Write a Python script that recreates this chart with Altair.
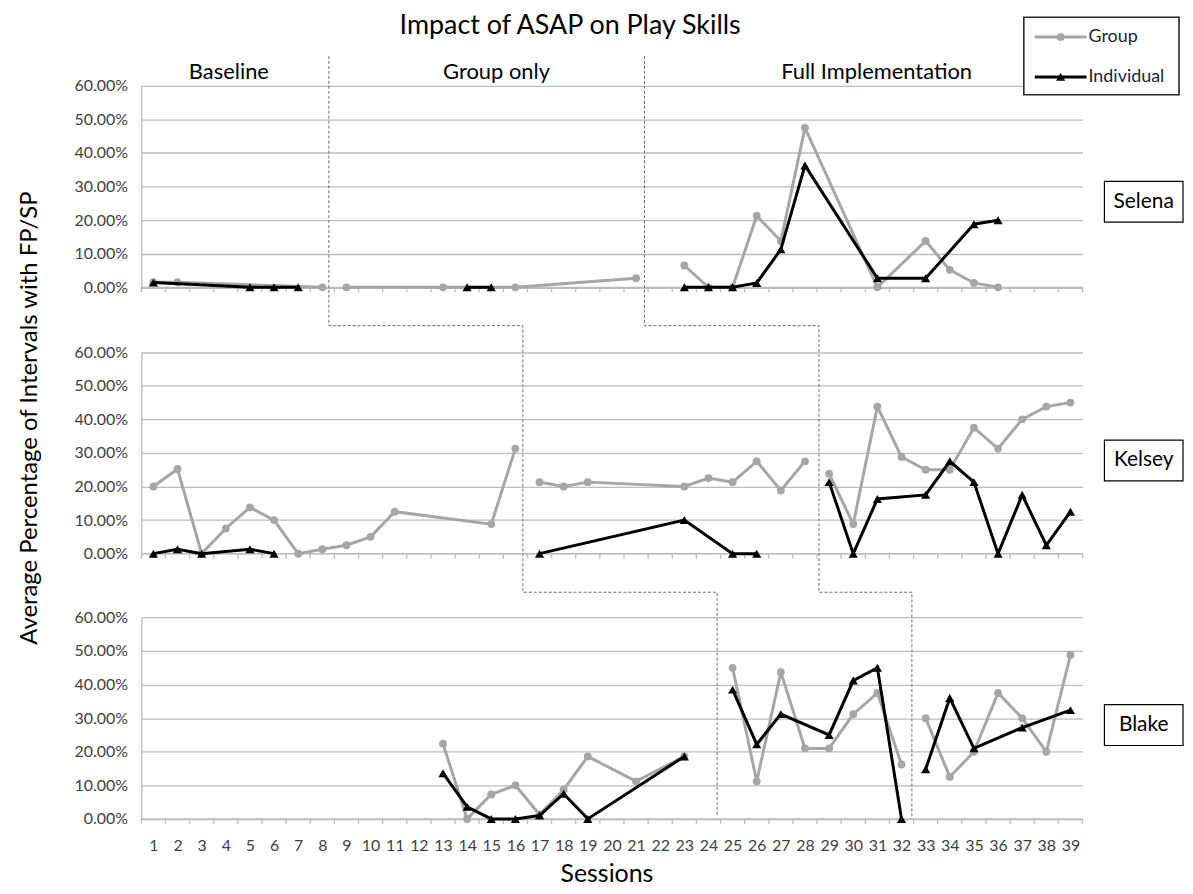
import altair as alt
import pandas as pd

FONT = "Lato"
SESSIONS = list(range(1, 40))
PARTICIPANTS = ["Selena", "Kelsey", "Blake"]
PHASE_NAMES = ["Baseline", "Group only", "Full Implementation"]
Y_TICKS = [0, 0.1, 0.2, 0.3, 0.4, 0.5, 0.6]

# position (in sessions) of each participant's two phase-change lines
PHASE_CHANGES = {
    "Selena": [8.27, 21.35],
    "Kelsey": [16.31, 28.58],
    "Blake": [24.36, 32.43],
}

# ---- data (percent) ----
SELENA_GROUP_SESSIONS = [1, 2, 8, 9, 13, 16, 21, 23, 24, 25, 26, 27, 28, 31, 33, 34, 35, 36]
SELENA_GROUP_VALUES = [1.5, 1.5, 0, 0, 0, 0, 2.7, 6.5, 0, 0, 21.3, 13.8, 47.5, 0, 13.8, 5.2, 1.3, 0]
SELENA_IND_SESSIONS = [1, 5, 6, 7, 14, 15, 23, 24, 25, 26, 27, 28, 31, 33, 35, 36]
SELENA_IND_VALUES = [1.4, 0, 0, 0, 0, 0, 0, 0, 0, 1.3, 11.3, 36.3, 2.7, 2.7, 18.8, 20.0]

KELSEY_GROUP_SESSIONS = [1, 2, 3, 4, 5, 6, 7, 8, 9, 10, 11, 15, 16,
                         17, 18, 19, 23, 24, 25, 26, 27, 28,
                         29, 30, 31, 32, 33, 34, 35, 36, 37, 38, 39]
KELSEY_GROUP_VALUES = [20.0, 25.2, 0, 7.5, 13.8, 10.0, 0, 1.3, 2.5, 5.0, 12.5, 8.8, 31.3,
                       21.3, 20.0, 21.3, 20.0, 22.5, 21.3, 27.5, 18.8, 27.5,
                       23.8, 8.8, 43.8, 28.8, 25.0, 25.0, 37.5, 31.3, 40.0, 43.8, 45.0]
KELSEY_IND_SESSIONS = [1, 2, 3, 5, 6, 17, 23, 25, 26, 29, 30, 31, 33, 34, 35, 36, 37, 38, 39]
KELSEY_IND_VALUES = [0, 1.3, 0, 1.3, 0, 0, 10.0, 0, 0, 21.3, 0, 16.3, 17.5, 27.5, 21.3, 0, 17.5, 2.5, 12.5]

BLAKE_GROUP_SESSIONS = [13, 14, 15, 16, 17, 18, 19, 21, 23,
                        25, 26, 27, 28, 29, 30, 31, 32,
                        33, 34, 35, 36, 37, 38, 39]
BLAKE_GROUP_VALUES = [22.4, 0, 7.3, 10.0, 1.3, 8.7, 18.6, 11.2, 18.6,
                      45.0, 11.2, 43.7, 21.0, 21.0, 31.2, 37.5, 16.2,
                      30.0, 12.5, 20.0, 37.5, 30.0, 20.0, 48.8]
BLAKE_IND_SESSIONS = [13, 14, 15, 16, 17, 18, 19, 23, 25, 26, 27, 29, 30, 31, 32, 33, 34, 35, 37, 39]
BLAKE_IND_VALUES = [13.6, 3.6, 0, 0, 1.0, 7.5, 0, 18.6, 38.5, 22.2, 31.2, 25.0, 41.2, 45.0, 0,
                    14.8, 36.0, 21.0, 27.2, 32.4]

SOURCES = [
    ("Selena", "Group", SELENA_GROUP_SESSIONS, SELENA_GROUP_VALUES),
    ("Selena", "Individual", SELENA_IND_SESSIONS, SELENA_IND_VALUES),
    ("Kelsey", "Group", KELSEY_GROUP_SESSIONS, KELSEY_GROUP_VALUES),
    ("Kelsey", "Individual", KELSEY_IND_SESSIONS, KELSEY_IND_VALUES),
    ("Blake", "Group", BLAKE_GROUP_SESSIONS, BLAKE_GROUP_VALUES),
    ("Blake", "Individual", BLAKE_IND_SESSIONS, BLAKE_IND_VALUES),
]
rows = []
for p, series, ss, vs in SOURCES:
    for s, v in zip(ss, vs):
        phase = sum(1 for b in PHASE_CHANGES[p] if s > b)
        rows.append(dict(participant=p, series=series, session=s, value=v / 100.0,
                         seg=f"{series}-{phase}"))
df = pd.DataFrame(rows)

# ---- layout (pixels, plot coordinates) ----
W, H = 946, 737
PH = 202.5
PANEL_TOP = {"Selena": 0.0, "Kelsey": 267.7, "Blake": 534.3}
BOX_TOP = {"Selena": 96, "Kelsey": 356, "Blake": 622}
STEP_Y = [-30, 241, 509, 734]

GREY = "#A6A6A6"
BLACK = "#000000"
GRID = "#BDBDBD"
LABEL = "#404040"
ONE = pd.DataFrame({"k": [0]})
TICKS = pd.DataFrame({"t": [s - 0.5 for s in SESSIONS] + [SESSIONS[-1] + 0.5]})

x_scale = alt.Scale(domain=[0.5, 39.5], nice=False, zero=False)
x_axis = alt.Axis(values=SESSIONS, format="d", domain=False, ticks=False, grid=False,
                  labelPadding=19, labelFontSize=16, labelColor=LABEL, title=None,
                  labelFlush=False, labelOverlap=False, labelFont=FONT)


def X(field):
    return alt.X(f"{field}:Q", scale=x_scale, axis=x_axis)


def text(t, x, y, size, color="#000000", **kw):
    return alt.Chart(ONE).mark_text(text=t, font=FONT, fontSize=size, color=color, **kw).encode(
        x=alt.value(x), y=alt.value(y))


def box(x1, x2, y1, y2, stroke="#000000", sw=1.2):
    return alt.Chart(ONE).mark_rect(fill="white", stroke=stroke, strokeWidth=sw).encode(
        x=alt.value(x1), x2=alt.value(x2), y=alt.value(y1), y2=alt.value(y2))


def panel(name):
    top = PANEL_TOP[name]
    d = df[df.participant == name]
    ys = alt.Scale(domain=[0, 0.6], range=[top + PH, top], nice=False, zero=True)
    ya = alt.Axis(orient="left", values=Y_TICKS, format=".2%", grid=True, gridColor=GRID,
                  gridWidth=1.3, domain=True, domainColor=GRID, domainWidth=1.3, ticks=False,
                  tickSize=0, labelPadding=14, labelFontSize=16, labelColor=LABEL,
                  labelFont=FONT, title=None)
    y = alt.Y("value:Q", scale=ys, axis=ya)
    y0 = alt.YDatum(0, type="quantitative", scale=ys, axis=ya)

    axis_line = alt.Chart(ONE).mark_rule(color=GRID, strokeWidth=1.3).encode(
        x=alt.XDatum(0.5, type="quantitative", scale=x_scale, axis=x_axis),
        x2=alt.X2Datum(39.5), y=y0)
    ticks = alt.Chart(TICKS).mark_rule(color=GRID, strokeWidth=1.3, y2Offset=5).encode(
        x=X("t"), y=y0, y2=alt.Y2Datum(0))

    g = alt.Chart(d).transform_filter(alt.datum.series == "Group")
    i = alt.Chart(d).transform_filter(alt.datum.series == "Individual")
    g_line = g.mark_line(color=GREY, strokeWidth=3).encode(
        x=X("session"), y=y, detail="seg:N", order="session:Q")
    g_pts = g.mark_point(shape="circle", filled=True, color=GREY, opacity=1, size=62).encode(
        x=X("session"), y=y)
    i_line = i.mark_line(color=BLACK, strokeWidth=3).encode(
        x=X("session"), y=y, detail="seg:N", order="session:Q")
    i_pts = i.mark_point(shape="triangle-up", filled=True, color=BLACK, opacity=1, size=85).encode(
        x=X("session"), y=y)

    bt = BOX_TOP[name]
    name_box = box(968, 1047, bt, bt + 41)
    name_txt = text(name, 1007.5, bt + 20.5, 21, align="center", baseline="middle")
    return alt.layer(axis_line, ticks, g_line, g_pts, i_line, i_pts, name_box, name_txt)


# phase-change dashed step lines
prow = []
for k in range(2):
    xs = [PHASE_CHANGES[p][k] for p in PARTICIPANTS]
    pts = [(xs[0], STEP_Y[0]), (xs[0], STEP_Y[1]), (xs[1], STEP_Y[1]),
           (xs[1], STEP_Y[2]), (xs[2], STEP_Y[2]), (xs[2], STEP_Y[3])]
    for j, (px, py) in enumerate(pts):
        prow.append(dict(line=k, i=j, px=px, py=py))
pdf = pd.DataFrame(prow)
phase_lines = alt.Chart(pdf).mark_line(color="#6E6E6E", strokeWidth=1, strokeDash=[3, 2]).encode(
    x=X("px"), y=alt.Y("py:Q", scale=None, axis=None), detail="line:N", order="i:Q")

deco = [
    text("Impact of ASAP on Play Skills", 431, -60, 27, align="center", baseline="middle"),
    text(PHASE_NAMES[0], 88, -14, 22, align="center", baseline="middle"),
    text(PHASE_NAMES[1], 357, -14, 22, align="center", baseline="middle"),
    text(PHASE_NAMES[2], 739, -14, 22, align="center", baseline="middle"),
    text("Average  Percentage of Intervals with FP/SP", -112, 334, 24, align="center",
         baseline="middle", angle=270),
    text("Sessions", 468, 792, 25, align="center", baseline="middle"),
    box(887, 1043, -69, 9, stroke="#262626", sw=1.6),
    alt.Chart(ONE).mark_rule(color=GREY, strokeWidth=3).encode(
        x=alt.value(898), x2=alt.value(950), y=alt.value(-49)),
    alt.Chart(ONE).mark_point(shape="circle", filled=True, color=GREY, opacity=1, size=62).encode(
        x=alt.value(924), y=alt.value(-49)),
    alt.Chart(ONE).mark_rule(color=BLACK, strokeWidth=3).encode(
        x=alt.value(898), x2=alt.value(950), y=alt.value(-9)),
    alt.Chart(ONE).mark_point(shape="triangle-up", filled=True, color=BLACK, opacity=1, size=85).encode(
        x=alt.value(924), y=alt.value(-9)),
    text("Group", 952, -49, 18, color="#1F1F3A", align="left", baseline="middle"),
    text("Individual", 952, -9, 18, color="#1F1F3A", align="left", baseline="middle"),
]

chart = alt.layer(
    *[panel(p) for p in PARTICIPANTS], phase_lines, *deco
).resolve_scale(y="independent").properties(
    width=W, height=H,
    padding={"left": 134, "top": 76, "right": 103, "bottom": 65},
    autosize=alt.AutoSizeParams(type="none"),
).configure_view(stroke=None)

chart.save("out.html", embed_options={"renderer": "svg", "actions": False})
